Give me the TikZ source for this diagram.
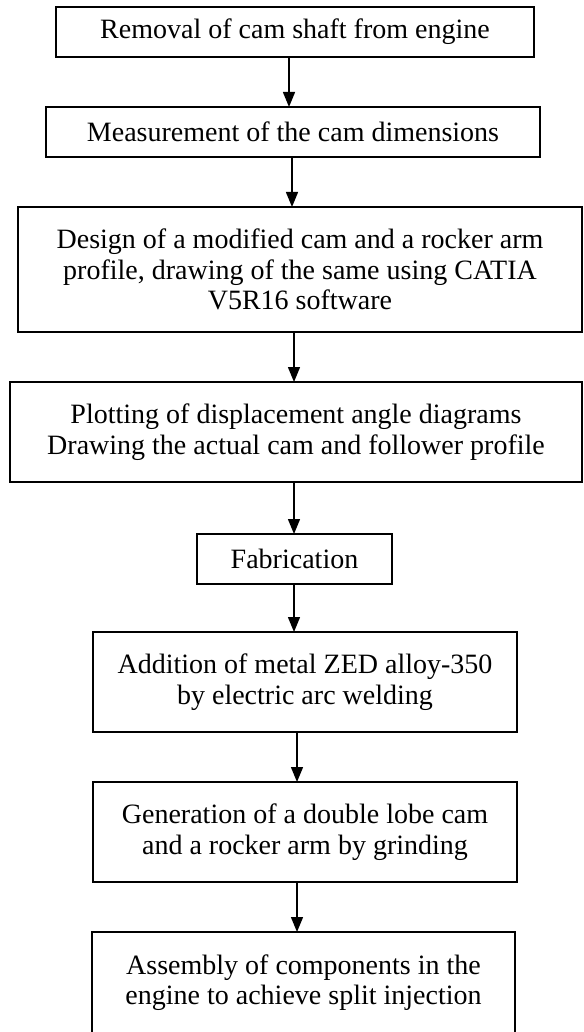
\documentclass[tikz,border=0pt]{standalone}
\usepackage{fontspec}
\setmainfont{Liberation Serif}
\usetikzlibrary{arrows.meta}
\begin{document}
\begin{tikzpicture}[x=1pt,y=-1pt,
  box/.style={draw=black, line width=1.5pt, rectangle, inner sep=0pt, outer sep=0pt,
    anchor=north west, align=center, font=\fontsize{28}{30.5}\selectfont},
  arr/.style={line width=1.4pt, -{Triangle[width=12pt,length=15pt]}}]
\useasboundingbox (0,0) rectangle (583,1032);
\clip (0,0) rectangle (583,1032);
\node[box, minimum width=478pt, minimum height=50pt] (b1) at (56,7)
  {Removal of cam shaft from engine};
\node[box, minimum width=494pt, minimum height=50pt] (b2) at (46,107)
  {Measurement of the cam dimensions};
\node[box, minimum width=564pt, minimum height=125pt] (b3) at (18,207)
  {Design of a modified cam and a rocker arm\\profile, drawing of the same using CATIA\\V5R16 software};
\node[box, minimum width=572pt, minimum height=100pt] (b4) at (10,382)
  {Plotting of displacement angle diagrams\\Drawing the actual cam and follower profile};
\node[box, minimum width=195pt, minimum height=50pt] (b5) at (197,534)
  {Fabrication};
\node[box, minimum width=424pt, minimum height=100pt] (b6) at (93,632)
  {Addition of metal ZED alloy-350\\by electric arc welding};
\node[box, minimum width=424pt, minimum height=100pt] (b7) at (93,782)
  {Generation of a double lobe cam\\and a rocker arm by grinding};
\node[box, minimum width=423pt, minimum height=101pt] (b8) at (92,932)
  {Assembly of components in the\\engine to achieve split injection};
\coordinate (a1) at (289,0);
\coordinate (a2) at (292,0);
\coordinate (a3) at (294,0);
\coordinate (a4) at (294,0);
\coordinate (a5) at (294,0);
\coordinate (a6) at (297,0);
\coordinate (a7) at (297,0);
\draw[arr] (b1.south -| a1) -- (b2.north -| a1);
\draw[arr] (b2.south -| a2) -- (b3.north -| a2);
\draw[arr] (b3.south -| a3) -- (b4.north -| a3);
\draw[arr] (b4.south -| a4) -- (b5.north -| a4);
\draw[arr] (b5.south -| a5) -- (b6.north -| a5);
\draw[arr] (b6.south -| a6) -- (b7.north -| a6);
\draw[arr] (b7.south -| a7) -- (b8.north -| a7);
\end{tikzpicture}
\end{document}
